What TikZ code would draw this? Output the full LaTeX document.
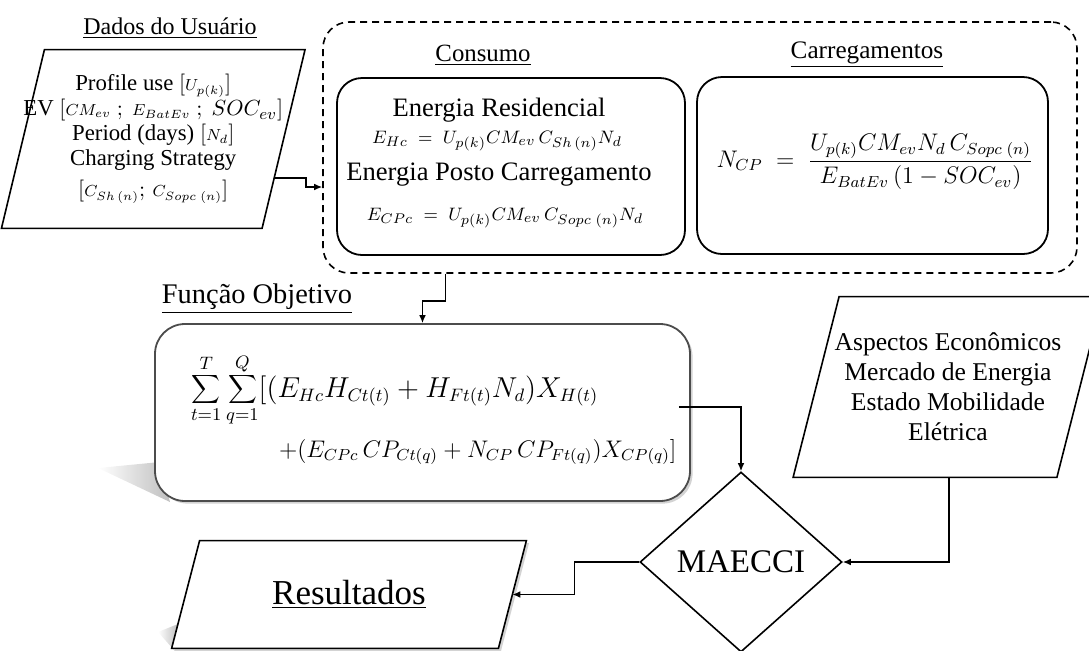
\documentclass[tikz,border=0pt]{standalone}
\usepackage{fontspec}
\setmainfont{Liberation Serif}
\usetikzlibrary{shapes.geometric,arrows.meta,shadows,backgrounds}

\newcommand{\tam}[2]{\fontsize{#1}{#2}\selectfont}
% contorno de paralelogramo em volta de um no retangular
\newcommand{\paral}[3][]{\draw[line width=0.8pt,#1] ([xshift=#3]#2.north west)
  -- ([xshift=#3]#2.north east) -- ([xshift=-#3]#2.south east)
  -- ([xshift=-#3]#2.south west) -- cycle;}

\tikzset{
  dado/.style={rectangle, inner sep=0pt, align=center},
  caixa/.style={rectangle, rounded corners=12.5pt, draw, line width=0.9pt},
  seta/.style={-{Latex[length=4pt,width=3.4pt]}, line width=0.7pt},
  sombra/.style={drop shadow={shadow xshift=1.3pt, shadow yshift=-1.3pt, opacity=0.35}},
}

\begin{document}
\begin{tikzpicture}[x=0.5pt,y=-0.5pt]
  \useasboundingbox (0,0) rectangle (1089,650);

  % entrada do usuario
  \node (tdados) at (170,28) {\tam{12}{14}\underline{Dados do Usuário}};
  \node[dado, font=\tam{11.4}{12.5}, minimum width=121.75pt, minimum height=89pt] (dados) at (153.25,139)
    {Profile use $[{\scriptstyle U_{p(k)}}]$\\
     EV $[{\scriptstyle CM_{ev}}\ ;\ {\scriptstyle E_{BatEv}}\ ;\ SOC_{ev}]$\\
     Period (days) $[{\scriptstyle N_d}]$\\
     Charging Strategy\\[3pt]
     $[{\scriptstyle C_{Sh\,(n)}};\,{\scriptstyle C_{Sopc\;(n)}}]$};
  \paral{dados}{10.75pt}

  % bloco tracejado
  \node[rectangle, rounded corners=13pt, draw, dash pattern=on 3.5pt off 2.5pt,
    line width=0.8pt, minimum width=377pt, minimum height=125.5pt] (bloco) at (700,147.5) {};
  \node (tcons) at (483,55) {\tam{12.4}{14}\underline{Consumo}};
  \node (tcarr) at (867,55) {\tam{12.6}{14}\underline{Carregamentos}};

  \node[caixa, minimum width=174pt, minimum height=88.5pt] (consumo) at (511,166.5) {};
  \node (eres) at (499,110) {\tam{13.3}{15}Energia Residencial};
  \node (eqhc) at (497,141) {\tam{9.5}{12}$E_{Hc} \;=\; U_{p(k)}CM_{ev}\,C_{Sh\,(n)}N_d$};
  \node (epc) at (499,175) {\tam{13.3}{15}Energia Posto Carregamento};
  \node (eqcpc) at (505,218) {\tam{9.5}{12}$E_{CPc} \;=\; U_{p(k)}CM_{ev}\,C_{Sopc\;(n)}N_d$};

  \node[caixa, minimum width=175.5pt, minimum height=88.5pt] (carreg) at (872.5,165.5) {};
  \node (eqncp) at (875,162) {\tam{12}{15}$\displaystyle N_{CP} \;=\;
    \frac{U_{p(k)}CM_{ev}N_d\,C_{Sopc\;(n)}}{E_{BatEv}\,(1-SOC_{ev})}$};

  % funcao objetivo
  \node (tfobj) at (257,299) {\tam{14.2}{16}\underline{Função Objetivo}};
  \shade[left color=white, right color=black!25] (98,468) -- (160,462) -- (170,502) -- cycle;
  \node[caixa, rounded corners=15pt, draw=black!70, fill=white, sombra,
    minimum width=267.5pt, minimum height=88.5pt] (funcao) at (422.5,412.5) {};
  \node[anchor=west] (fobj1) at (184,390) {\tam{13.5}{15}$\displaystyle
    \sum_{t=1}^{T}\sum_{q=1}^{Q}[(E_{Hc}H_{Ct(t)}+H_{Ft(t)}N_d)X_{H(t)}$};
  \node[anchor=west] (fobj2) at (272,452) {\tam{11.8}{14}$+(E_{CPc}\,CP_{Ct(q)}+N_{CP}\,CP_{Ft(q)})X_{CP(q)}]$};

  % aspectos externos
  \node[dado, font=\tam{12.8}{15}, minimum width=131.5pt, minimum height=90pt] (aspectos) at (948,387)
    {Aspectos Econômicos\\Mercado de Energia\\Estado Mobilidade\\Elétrica};
  \paral{aspectos}{11.5pt}

  \node[diamond, draw, line width=0.8pt, inner sep=0pt, minimum width=101pt,
    minimum height=90pt] (maecci) at (741,562) {\tam{16.5}{18}MAECCI};

  % resultados
  \node[dado, font=\tam{17.5}{20}, minimum width=163pt, minimum height=53.5pt] (res) at (349,594.5)
    {\underline{Resultados}};
  \begin{scope}[on background layer]
    \shade[left color=white, right color=black!25] (158,632) -- (178,624) -- (174,650) -- cycle;
    \paral[fill=white, sombra]{res}{7pt}
  \end{scope}

  % ligacoes
  \draw[seta] ([xshift=-4.7pt,yshift=-19.5pt]dados.east) -- ++(16pt,0) |- ([yshift=-19.75pt]bloco.west);
  \draw[seta] ([xshift=11.5pt]funcao.north |- bloco.south) -- ++(0,-13.5pt) -| (funcao.north);
  \draw[seta] ([xshift=-6pt,yshift=2.75pt]funcao.east) -| (maecci.north);
  \draw[seta] ([xshift=0.5pt]aspectos.south) |- (maecci.east);
  \draw[seta] (maecci.west) -- ++(-32.5pt,0) |- (res.east);
\end{tikzpicture}
\end{document}
